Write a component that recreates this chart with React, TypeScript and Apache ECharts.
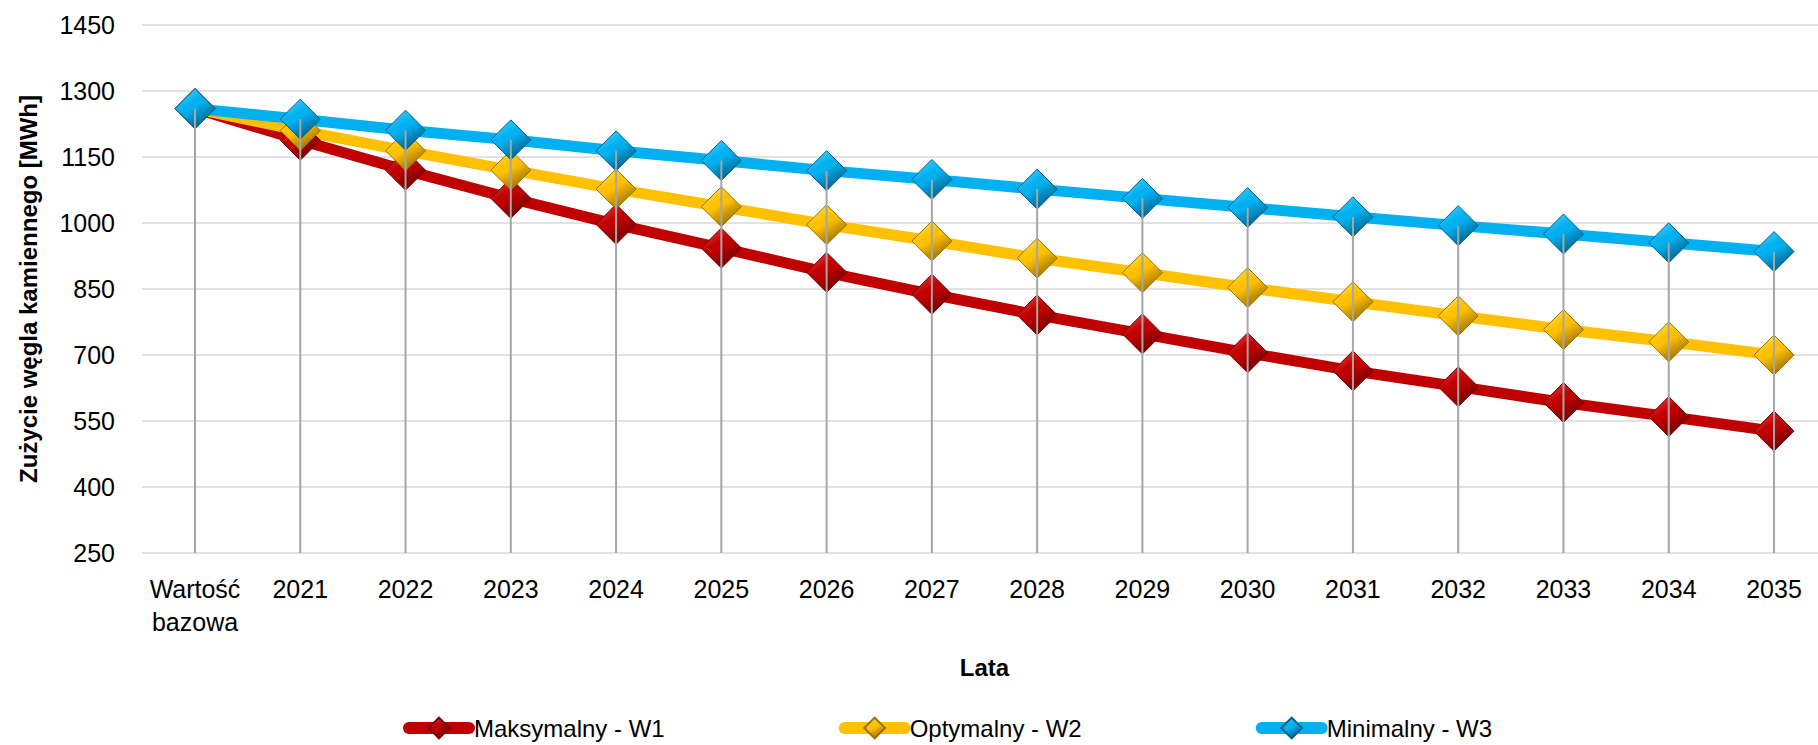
import React, { useEffect, useRef } from "react";
import * as echarts from "echarts";

const categories = ["Wartość\nbazowa", "2021", "2022", "2023", "2024", "2025", "2026", "2027", "2028", "2029", "2030", "2031", "2032", "2033", "2034", "2035"];
const maksymalnyW1 = [1260, 1188, 1120, 1056, 997, 943, 888, 838, 791, 748, 705, 664, 628, 592, 560, 527];
const optymalnyW2 = [1260, 1210, 1164, 1120, 1077, 1037, 996, 959, 920, 887, 853, 821, 789, 758, 730, 700];
const minimalnyW3 = [1260, 1236, 1211, 1189, 1164, 1142, 1119, 1099, 1077, 1056, 1035, 1014, 994, 975, 955, 935];
const yTickLabels = ["250", "400", "550", "700", "850", "1000", "1150", "1300", "1450"];
const Y_MIN = 250;
const Y_MAX = 1450;

const FONT = "'Liberation Sans Narrow', 'Arial Narrow', 'Liberation Sans', Arial, sans-serif";

function markerFill(light: string, base: string, dark: string) {
  return new echarts.graphic.LinearGradient(0, 0, 0.6, 1, [
    { offset: 0, color: light },
    { offset: 0.45, color: base },
    { offset: 0.55, color: base },
    { offset: 1, color: dark },
  ]);
}

export default function App() {
  const ref = useRef<HTMLDivElement>(null);
  useEffect(() => {
    if (!ref.current) return;
    const chart = echarts.init(ref.current, null, { renderer: "svg" });
    const dropData = categories.map((_, i) => [i, Math.max(maksymalnyW1[i], optymalnyW2[i], minimalnyW3[i])]);
    const mkLine = (name: string, data: number[], color: string, light: string, dark: string) => ({
      name,
      type: "line",
      xAxisIndex: 1,
      yAxisIndex: 1,
      data,
      symbol: "diamond",
      symbolSize: 40,
      lineStyle: { color, width: 11 },
      itemStyle: { color: markerFill(light, color, dark), borderColor: dark, borderWidth: 1 },
      emphasis: { disabled: true },
      z: 2,
    });
    chart.setOption({
      animation: false,
      grid: [
        { left: 142, right: 0, top: 25, bottom: 192 },
        { left: 195, right: 44, top: 25, bottom: 192 },
      ],
      legend: {
        left: 403,
        top: 716,
        padding: 0,
        itemWidth: 60,
        itemHeight: 26,
        itemGap: 174,
        lineStyle: { width: 12, cap: "round" },
        textStyle: { fontSize: 24, fontFamily: FONT, color: "#000" },
        data: ["Maksymalny - W1", "Optymalny - W2", "Minimalny - W3"],
      },
      xAxis: [
        { type: "value", gridIndex: 0, min: 0, max: 1, show: false },
        {
          type: "category",
          gridIndex: 1,
          data: categories,
          boundaryGap: false,
          axisLine: { show: false },
          axisTick: { show: false },
          splitLine: { show: false },
          axisLabel: { interval: 0, fontSize: 25, lineHeight: 33, margin: 19, color: "#000", fontFamily: FONT },
          name: "Lata",
          nameLocation: "middle",
          nameGap: 102,
          nameTextStyle: { fontSize: 24, fontWeight: "bold", color: "#000", fontFamily: FONT },
        },
      ],
      yAxis: [
        {
          type: "category",
          gridIndex: 0,
          data: yTickLabels,
          boundaryGap: false,
          axisLine: { show: false },
          axisTick: { show: false },
          splitLine: { show: true, lineStyle: { color: "#d9d9d9", width: 1.5 } },
          axisLabel: { fontSize: 25, margin: 27, color: "#000", fontFamily: FONT },
          name: "Zużycie węgla kamiennego [MWh]",
          nameLocation: "middle",
          nameGap: 102,
          nameTextStyle: { fontSize: 24, fontWeight: "bold", color: "#000", fontFamily: FONT },
        },
        { type: "value", gridIndex: 1, min: Y_MIN, max: Y_MAX, show: false, splitLine: { show: false } },
      ],
      series: [
        mkLine("Maksymalny - W1", maksymalnyW1, "#c00000", "#ff4d4d", "#6e0000"),
        mkLine("Optymalny - W2", optymalnyW2, "#ffc000", "#fff05a", "#9a7000"),
        mkLine("Minimalny - W3", minimalnyW3, "#00b0f0", "#5ad8ff", "#005f88"),
        {
          type: "custom",
          xAxisIndex: 1,
          yAxisIndex: 1,
          data: dropData,
          z: 5,
          silent: true,
          renderItem: (params: any, api: any) => {
            const top = api.coord([api.value(0), api.value(1)]);
            const bottom = api.coord([api.value(0), Y_MIN]);
            return {
              type: "line",
              shape: { x1: top[0], y1: top[1], x2: bottom[0], y2: bottom[1] },
              style: { stroke: "#a6a6a6", lineWidth: 2 },
            };
          },
        },
      ],
    });
    return () => chart.dispose();
  }, []);
  return <div ref={ref} style={{ position: "absolute", left: 0, top: 0, width: 1818, height: 745 }} />;
}
